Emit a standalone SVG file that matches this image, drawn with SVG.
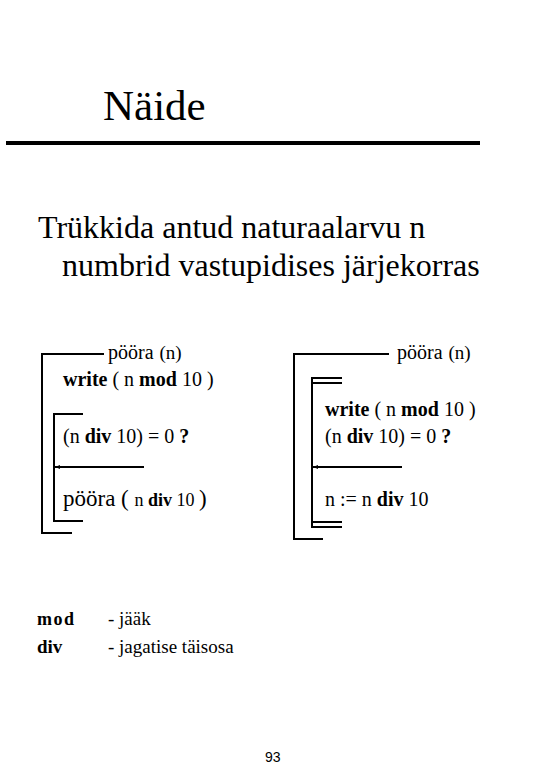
<svg xmlns="http://www.w3.org/2000/svg" width="540" height="780" viewBox="0 0 540 780">
<style>
text{font-family:"Liberation Serif","Times New Roman",serif;fill:#000}
.b{font-weight:bold}
.ln{stroke:#000;stroke-width:2;fill:none}
.code{font-size:20px}
.hd{font-size:20px}
</style>
<defs>
<marker id="ah" viewBox="0 0 5 4" refX="5" refY="2" markerWidth="5" markerHeight="4" markerUnits="userSpaceOnUse" orient="auto">
<path d="M0,0 L5,2 L0,4 Z" fill="#000"/>
</marker>
</defs>
<rect width="540" height="780" fill="#fff"/>
<g id="title">
<text x="103" y="120" font-size="43">Näide</text>
<line x1="6" y1="143" x2="480" y2="143" stroke="#000" stroke-width="4"/>
</g>
<g id="intro">
<text x="38" y="238" font-size="32">Trükkida antud naturaalarvu n</text>
<text x="62" y="276" font-size="32">numbrid vastupidises järjekorras</text>
</g>
<g id="left-diagram">
<text x="108" y="359" class="hd">pööra <tspan font-size="19" dx="1">(n)</tspan></text>
<text x="63" y="386" class="code"><tspan class="b">write</tspan> ( n <tspan class="b">mod</tspan> 10 )</text>
<text x="63" y="443" class="code">(n <tspan class="b">div</tspan> 10) = 0 <tspan class="b">?</tspan></text>
<text x="63" y="506" font-size="23">pööra ( <tspan font-size="18">n <tspan class="b">div</tspan> 10 </tspan>)</text>
</g>
<g id="right-diagram">
<text x="397" y="359" class="hd">pööra <tspan font-size="19" dx="1">(n)</tspan></text>
<text x="325" y="416" class="code"><tspan class="b">write</tspan> ( n <tspan class="b">mod</tspan> 10 )</text>
<text x="325" y="443" class="code">(n <tspan class="b">div</tspan> 10) = 0 <tspan class="b">?</tspan></text>
<text x="325" y="506" class="code">n := n <tspan class="b">div</tspan> 10</text>
</g>
<g id="connectors">
<polyline class="ln" points="104,354 42,354 42,533 72,533"/>
<polyline class="ln" points="83,414 54,414 54,521 83,521"/>
<line class="ln" x1="144" y1="467" x2="55" y2="467" marker-end="url(#ah)"/>
<polyline class="ln" points="389,354 294,354 294,539 323,539"/>
<polyline class="ln" points="342,378 312,378 312,527 342,527"/>
<line class="ln" x1="312" y1="383" x2="342" y2="383"/>
<line class="ln" x1="312" y1="522" x2="342" y2="522"/>
<line class="ln" x1="402" y1="467" x2="313" y2="467" marker-end="url(#ah)"/>
</g>
<g id="legend">
<text x="37" y="625" font-size="18" class="b" letter-spacing="1.5">mod</text>
<text x="108" y="625" font-size="19">- jääk</text>
<text x="37" y="653" font-size="19" class="b">div</text>
<text x="108" y="653" font-size="19">- jagatise täisosa</text>
</g>
<g id="page">
<text x="265" y="762" font-size="14" style="font-family:'Liberation Sans',Arial,sans-serif">93</text>
</g>
</svg>
